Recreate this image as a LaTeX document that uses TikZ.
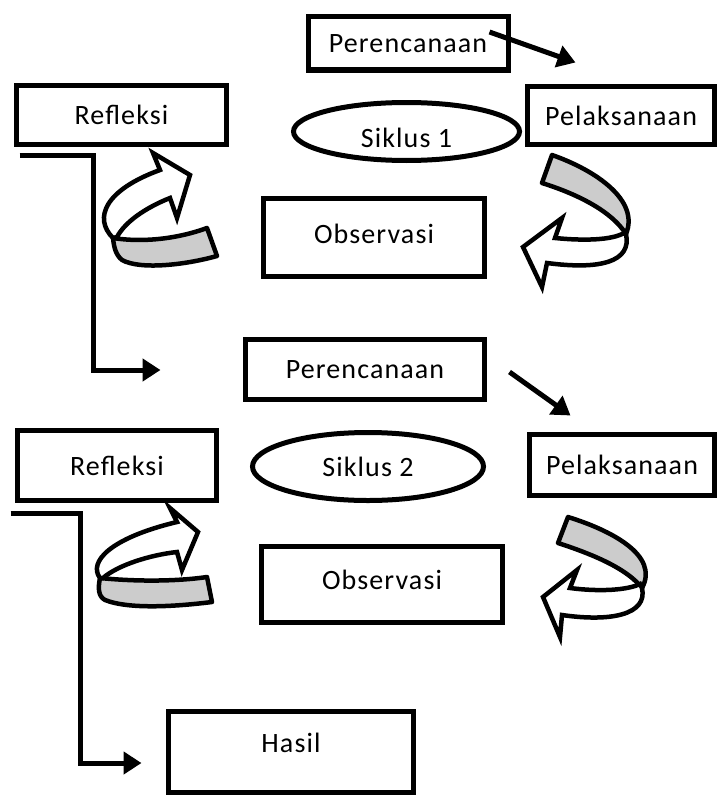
\documentclass[tikz,border=0pt]{standalone}
\usepackage{fontspec}
\setmainfont[LetterSpace=4]{Carlito}
\usetikzlibrary{arrows.meta,shapes.geometric,calc}
\begin{document}
\begin{tikzpicture}[x=1pt,y=-1pt,
  txt/.style={font=\fontsize{28}{34}\selectfont},
  box/.style={draw, line width=5pt, rectangle, inner sep=0pt, txt},
  oval/.style={draw, line width=5pt, ellipse, inner sep=0pt, txt},
  conn/.style={line width=5pt, -{Triangle[length=18pt,width=22pt]}},
  band/.style={draw, line width=4.5pt, fill=black!20, line join=round},
  curl/.style={draw, line width=4.5pt, fill=white, line join=miter}]
\useasboundingbox (0,0) rectangle (720,800);

% cycle 1
\node[box, minimum width=200pt, minimum height=53pt] (per1) at (408,43.5) {Perencanaan};
\node[box, minimum width=210pt, minimum height=59pt] (ref1) at (121.5,115) {Refleksi};
\node[box, minimum width=187pt, minimum height=58pt] (pel1) at (621,115.5) {Pelaksanaan};
\node[oval, minimum width=226pt, minimum height=58pt, text height=32pt] (sik1) at (406.5,131.5) {Siklus 1};
\node[box, minimum width=221pt, minimum height=78pt, text depth=8pt] (obs1) at (374,237.5) {Observasi};

% cycle 2
\node[box, minimum width=239pt, minimum height=60pt] (per2) at (365,369.5) {Perencanaan};
\node[box, minimum width=199pt, minimum height=70pt] (ref2) at (117,465.5) {Refleksi};
\node[oval, minimum width=231pt, minimum height=68pt] (sik2) at (368,466.5) {Siklus 2};
\node[box, minimum width=185pt, minimum height=61pt] (pel2) at (622,465) {Pelaksanaan};
\node[box, minimum width=241pt, minimum height=76pt, text depth=10pt] (obs2) at (382,584.5) {Observasi};

% result
\node[box, minimum width=245pt, minimum height=81pt, text depth=18pt] (hasil) at (291,752) {Hasil};

% connector ends
\coordinate (p1s) at ($(per1.east)+(-21,-11.5)$);
\coordinate (p1e) at ($(pel1.north west)+(50.5,-21.5)$);
\coordinate (p2s) at ($(per2.east)+(22.5,2.5)$);
\coordinate (p2e) at ($(pel2.north west)+(43.5,-16.5)$);
\coordinate (l1s) at ($(ref1.south west)+(5.5,8.5)$);
\coordinate (l1m) at (93,370);
\coordinate (l1e) at ($(per2.west)+(-82.5,0.5)$);
\coordinate (l2s) at ($(ref2.south west)+(-4.5,10.5)$);
\coordinate (l2m) at (80,763);
\coordinate (l2e) at ($(hasil.west)+(-24.5,11)$);

\draw[conn] (p1s) -- (p1e);
\draw[conn] (p2s) -- (p2e);
\draw[conn] (l1s) -| (l1m) -- (l1e);
\draw[conn] (l2s) -| (l2m) -- (l2e);

% curled arrows, cycle 1
\draw[band] (113,238) .. controls (145,243) and (180,238) .. (207,228) -- (217,256)
  .. controls (185,265) and (140,270) .. (122,260) .. controls (116,255) and (114,248) .. (113,238) -- cycle;
\draw[curl] (113,238) .. controls (93,218) and (105,190) .. (160,170) -- (153,153) -- (190,175)
  -- (177,218) -- (170,198) .. controls (145,208) and (125,222) .. (117,237) -- cycle;

\draw[band] (552,155) .. controls (595,170) and (640,200) .. (626,234)
  .. controls (612,212) and (580,195) .. (542,183) -- cycle;
\draw[curl] (626,234) .. controls (632,262) and (600,270) .. (547,263) -- (542,287) -- (523,247)
  -- (562,218) -- (555,238) .. controls (585,241) and (612,240) .. (624,233) -- cycle;

% curled arrows, cycle 2
\draw[band] (100,578) .. controls (140,582) and (180,581) .. (207,577) -- (212,602)
  .. controls (180,606) and (130,610) .. (105,600) .. controls (98,596) and (98,588) .. (100,578) -- cycle;
\draw[curl] (100,578) .. controls (88,562) and (110,538) .. (177,522) -- (170,508) -- (198,532)
  -- (182,570) -- (177,552) .. controls (150,555) and (118,565) .. (103,578) -- cycle;

\draw[band] (568,517) .. controls (610,530) and (660,555) .. (642,588)
  .. controls (628,570) and (598,556) .. (558,543) -- cycle;
\draw[curl] (642,588) .. controls (648,615) and (610,622) .. (562,615) -- (560,637) -- (543,597)
  -- (577,570) -- (570,588) .. controls (600,592) and (628,590) .. (640,584) -- cycle;
\end{tikzpicture}
\end{document}
